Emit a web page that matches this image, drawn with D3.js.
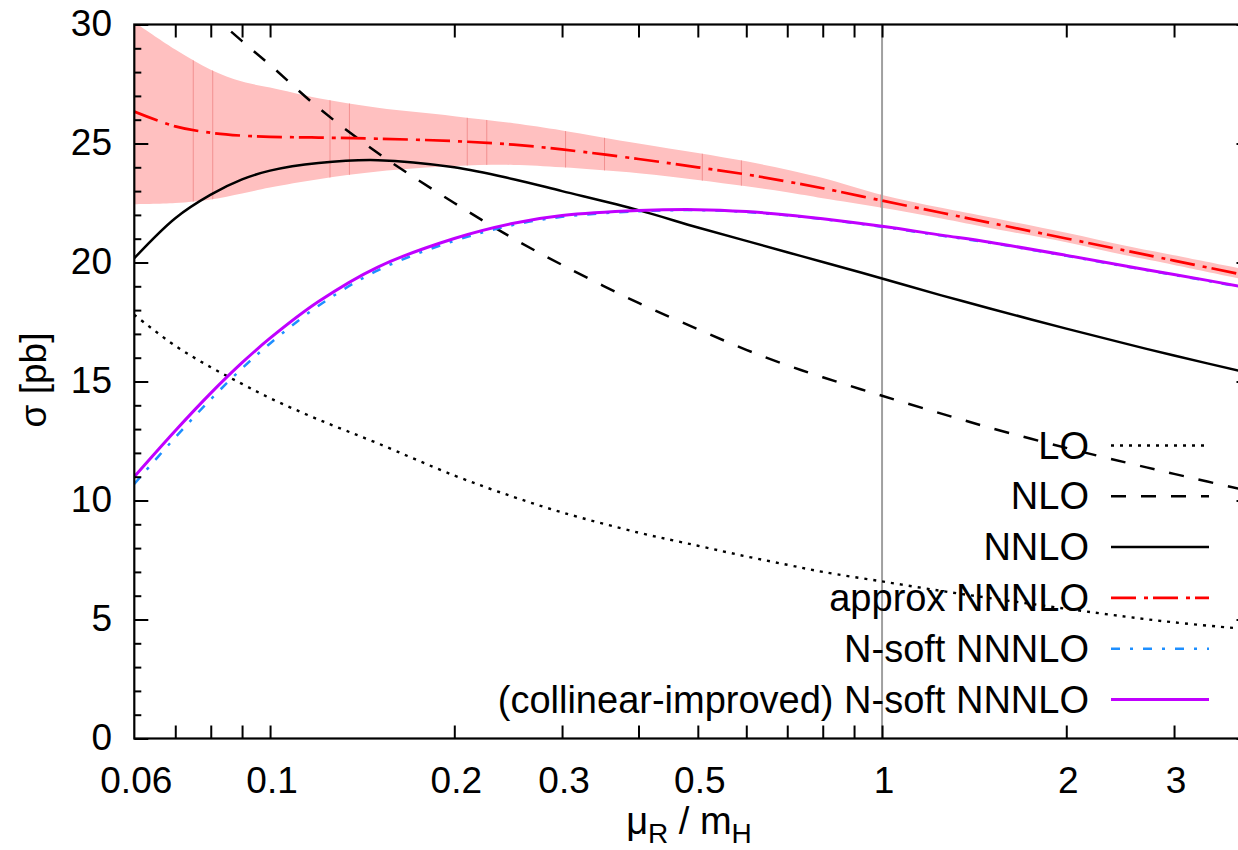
<!DOCTYPE html>
<html>
<head>
<meta charset="utf-8">
<script src="https://cdn.jsdelivr.net/npm/d3@7"></script>
<style>
  html, body { margin: 0; padding: 0; background: #fff; }
  svg { display: block; font-family: "Liberation Sans", Arial, Helvetica, sans-serif; }
</style>
</head>
<body>
<svg id="chart" width="1238" height="850"></svg>
<script>
// ---- data ----
const muRatio = [0.06, 0.07, 0.08, 0.09, 0.1, 0.12, 0.15, 0.2, 0.25, 0.3, 0.4, 0.5, 0.6, 0.7, 0.8, 1.0, 1.25, 1.5, 2, 2.5, 3, 4];
const sigmaLO = [17.8, 16.5, 15.6, 14.9, 14.3, 13.4, 12.4, 11.05, 10.15, 9.5, 8.65, 8.1, 7.65, 7.3, 7.0, 6.6, 6.2, 5.9, 5.45, 5.12, 4.88, 4.58];
const sigmaNLO = [34.5, 32.2, 30.5, 29.3, 28.3, 26.5, 24.6, 22.5, 21.0, 19.9, 18.3, 17.2, 16.33, 15.68, 15.18, 14.4, 13.65, 13.06, 12.21, 11.6, 11.12, 10.38];
const sigmaNNLO = [20.18, 21.86, 22.85, 23.49, 23.86, 24.18, 24.3, 24.0, 23.5, 23.0, 22.2, 21.47, 20.91, 20.43, 20.02, 19.33, 18.62, 18.07, 17.22, 16.59, 16.09, 15.34];
const sigmaApproxN3LO = [26.34, 25.72, 25.45, 25.33, 25.28, 25.25, 25.2, 25.1, 24.95, 24.75, 24.35, 24.0, 23.7, 23.4, 23.12, 22.6, 22.09, 21.67, 21.01, 20.5, 20.08, 19.42];
const bandUpper = [30.1, 28.95, 28.1, 27.6, 27.35, 26.9, 26.5, 26.15, 25.85, 25.55, 25.0, 24.6, 24.25, 23.9, 23.55, 22.84, 22.3, 21.9, 21.25, 20.7, 20.3, 19.66];
const bandLower = [22.45, 22.5, 22.65, 22.9, 23.15, 23.5, 23.82, 24.05, 24.1, 24.0, 23.75, 23.47, 23.2, 22.95, 22.7, 22.3, 21.85, 21.45, 20.85, 20.3, 19.9, 19.23];
const sigmaNsoft = [10.7, 12.65, 14.25, 15.55, 16.6, 18.18, 19.67, 20.91, 21.58, 21.92, 22.15, 22.2, 22.12, 21.98, 21.82, 21.5, 21.13, 20.83, 20.28, 19.83, 19.48, 18.9];
const sigmaNsoftColl = [11.0, 12.93, 14.51, 15.79, 16.82, 18.36, 19.81, 21.01, 21.65, 21.97, 22.18, 22.22, 22.14, 22.0, 21.84, 21.52, 21.15, 20.85, 20.3, 19.85, 19.5, 18.92];
const bandSeams = [0.0749, 0.0806, 0.1253, 0.1348, 0.210, 0.226, 0.304, 0.352, 0.5085, 0.589, 0.995];

const xTickValues = [0.07, 0.08, 0.09, 0.1, 0.2, 0.3, 0.4, 0.5, 0.6, 0.7, 0.8, 0.9, 1, 2, 3, 4];
const xTickLabels = [[0.06, "0.06"], [0.1, "0.1"], [0.2, "0.2"], [0.3, "0.3"], [0.5, "0.5"], [1, "1"], [2, "2"], [3, "3"]];
const yMajorTicks = [0, 5, 10, 15, 20, 25, 30];
const yMinorTicks = [1, 2, 3, 4, 6, 7, 8, 9, 11, 12, 13, 14, 16, 17, 18, 19, 21, 22, 23, 24, 26, 27, 28, 29];
const referenceScale = 1;

const series = [
  { name: "LO", values: sigmaLO, color: "#000000", width: 2.4, dash: "3,6" },
  { name: "NLO", values: sigmaNLO, color: "#000000", width: 2.5, dash: "15,15" },
  { name: "NNLO", values: sigmaNNLO, color: "#000000", width: 2.5, dash: null },
  { name: "approx NNNLO", values: sigmaApproxN3LO, color: "#ff0000", width: 2.7, dash: "25,8,4,5" },
  { name: "N-soft NNNLO", values: sigmaNsoft, color: "#1e8fff", width: 2.5, dash: "9,10,3,10" },
  { name: "(collinear-improved) N-soft NNNLO", values: sigmaNsoftColl, color: "#c000ff", width: 3, dash: null }
];

// ---- layout ----
const svg = d3.select("#chart");
const L = 134.3, R = 1250.5, T = 24.5, B = 738.5;
const x = d3.scaleLog().domain([0.06, 4]).range([L, R]);
const y = d3.scaleLinear().domain([0, 30]).range([B, T]);
const FS = 37, LFS = 38;
const curve = d3.curveCatmullRom.alpha(0.5);

const defs = svg.append("defs");
defs.append("clipPath").attr("id", "plotclip")
  .append("rect").attr("x", L).attr("y", T).attr("width", R - L).attr("height", B - T);

const plot = svg.append("g").attr("clip-path", "url(#plotclip)");

// band
const area = d3.area()
  .x((d, i) => x(muRatio[i]))
  .y0((d, i) => y(bandLower[i]))
  .y1((d, i) => y(bandUpper[i]))
  .curve(curve);
plot.append("path").datum(muRatio).attr("d", area).attr("fill", "#ffc0c0").attr("stroke", "none");
defs.append("clipPath").attr("id", "bandclip").append("path").datum(muRatio).attr("d", area);
plot.append("g").attr("clip-path", "url(#bandclip)").selectAll("line").data(bandSeams).join("line")
  .attr("x1", d => x(d)).attr("x2", d => x(d)).attr("y1", T).attr("y2", B)
  .attr("stroke", "#f29090").attr("stroke-width", 1);

// reference line at mu = mH
plot.append("line")
  .attr("x1", x(referenceScale)).attr("x2", x(referenceScale))
  .attr("y1", T).attr("y2", B)
  .attr("stroke", "#a0a0a0").attr("stroke-width", 2);

// legend text (drawn below curves, as in reference)
const legX = 1089, legLineX1 = 1111, legLineX2 = 1209, legY0 = 445.5, legDY = 50.8;
const leg = svg.append("g");
series.forEach((s, i) => {
  const ry = legY0 + i * legDY;
  leg.append("text").attr("x", legX).attr("y", ry + 13)
    .attr("text-anchor", "end").attr("font-size", LFS).attr("fill", "#000").text(s.name);
});

// curves
const line = d3.line()
  .x((d, i) => x(muRatio[i]))
  .y(d => y(d))
  .curve(curve);
series.forEach(s => {
  const p = plot.append("path").datum(s.values).attr("d", line)
    .attr("fill", "none").attr("stroke", s.color).attr("stroke-width", s.width);
  if (s.dash) p.attr("stroke-dasharray", s.dash);
});
series.forEach((s, i) => {
  const ry = legY0 + i * legDY;
  const p = leg.append("line").attr("x1", legLineX1).attr("x2", legLineX2)
    .attr("y1", ry).attr("y2", ry)
    .attr("stroke", s.color).attr("stroke-width", s.width);
  if (s.dash) p.attr("stroke-dasharray", s.dash);
});

// axes ticks
const axG = svg.append("g");
const bottomAxis = d3.axisBottom(x).tickValues(xTickValues).tickSizeInner(-13).tickSizeOuter(0).tickFormat("");
const topAxis = d3.axisTop(x).tickValues(xTickValues).tickSizeInner(-13).tickSizeOuter(0).tickFormat("");
axG.append("g").attr("transform", `translate(0,${B})`).call(bottomAxis);
axG.append("g").attr("transform", `translate(0,${T})`).call(topAxis);
axG.append("g").attr("transform", `translate(${L},0)`).call(d3.axisLeft(y).tickValues(yMajorTicks).tickSizeInner(-14).tickSizeOuter(0).tickFormat(""));
axG.append("g").attr("transform", `translate(${L},0)`).call(d3.axisLeft(y).tickValues(yMinorTicks).tickSizeInner(-7).tickSizeOuter(0).tickFormat(""));
axG.append("g").attr("transform", `translate(${R},0)`).call(d3.axisRight(y).tickValues(yMajorTicks).tickSizeInner(-14).tickSizeOuter(0).tickFormat(""));
axG.append("g").attr("transform", `translate(${R},0)`).call(d3.axisRight(y).tickValues(yMinorTicks).tickSizeInner(-7).tickSizeOuter(0).tickFormat(""));
axG.selectAll(".domain").remove();
axG.selectAll(".tick line").attr("stroke", "#000").attr("stroke-width", 2);

// frame
svg.append("rect").attr("x", L).attr("y", T).attr("width", R - L).attr("height", B - T)
  .attr("fill", "none").attr("stroke", "#000").attr("stroke-width", 2.2);

// tick labels
xTickLabels.forEach(([v, t]) => {
  svg.append("text").attr("x", x(v) + 2).attr("y", 793).attr("text-anchor", "middle")
    .attr("font-size", FS).attr("fill", "#000").text(t);
});
yMajorTicks.forEach(v => {
  svg.append("text").attr("x", 112).attr("y", y(v) + 11).attr("text-anchor", "end")
    .attr("font-size", FS).attr("fill", "#000").text(v);
});

// axis titles
const xt = svg.append("text").attr("x", 689).attr("y", 834).attr("text-anchor", "middle")
  .attr("font-size", LFS).attr("fill", "#000");
xt.append("tspan").text("\u03bc");
xt.append("tspan").attr("font-size", 28).attr("dy", 9).text("R");
xt.append("tspan").attr("dy", -9).text(" / m");
xt.append("tspan").attr("font-size", 28).attr("dy", 9).text("H");

svg.append("text").attr("transform", "translate(46,380) rotate(-90)")
  .attr("text-anchor", "middle").attr("font-size", FS).attr("fill", "#000").text("\u03c3 [pb]");
</script>
</body>
</html>
